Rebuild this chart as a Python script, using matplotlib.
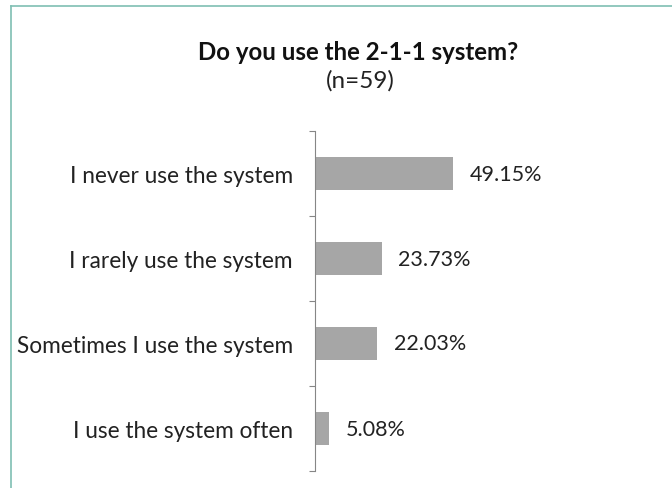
import matplotlib.pyplot as plt
from matplotlib.lines import Line2D
from matplotlib.ticker import FixedLocator

plt.rcParams['font.family'] = ['Lato', 'DejaVu Sans']

# survey answers, top to bottom
answers = ["I never use the system",
           "I rarely use the system",
           "Sometimes I use the system",
           "I use the system often"]
shares = [49.15, 23.73, 22.03, 5.08]
title = "Do you use the 2-1-1 system?"
subtitle = "(n=59)"

fig = plt.figure(figsize=(6.72, 4.89), dpi=100)
ax = fig.add_axes([315 / 672, 1 - 472 / 489, 281 / 672, 340 / 489])

pos = list(range(len(answers)))
ax.barh(pos, shares, height=0.38, color="#a6a6a6")
ax.set_ylim(len(answers) - 0.5, -0.5)
ax.set_xlim(0, 100)

for p, v in zip(pos, shares):
    ax.annotate(f"{v:.2f}%", (v, p), xytext=(12, 0), textcoords="offset points",
                va="center", ha="left", fontsize=15.5, color="#222222")

ax.set_yticks(pos)
ax.set_yticklabels(answers, fontsize=16.3, color="#222222")
ax.tick_params(axis="y", which="major", length=0, pad=16)
ax.yaxis.set_minor_locator(FixedLocator([p - 0.5 for p in pos] + [len(pos) - 0.5]))
ax.tick_params(axis="y", which="minor", length=4.5, width=0.8, color="#868686", direction="out")
ax.set_xticks([])
for s in ["top", "right", "bottom"]:
    ax.spines[s].set_visible(False)
ax.spines["left"].set_color("#868686")
ax.spines["left"].set_linewidth(0.8)

fig.text(358 / 672, 1 - 52 / 489, title, ha="center", va="center",
         fontsize=17.3, fontweight="bold", color="#111111")
fig.text(360 / 672, 1 - 81 / 489, subtitle, ha="center", va="center",
         fontsize=17.5, color="#222222")

# chart frame (top and left edges)
frame = "#7fbfb3"
fig.add_artist(Line2D([11 / 672, 1], [1 - 6.5 / 489, 1 - 6.5 / 489], color=frame, lw=1.2,
                      transform=fig.transFigure))
fig.add_artist(Line2D([11 / 672, 11 / 672], [0, 1 - 6.5 / 489], color=frame, lw=1.2,
                      transform=fig.transFigure))

fig.savefig("out.png", dpi=100)
